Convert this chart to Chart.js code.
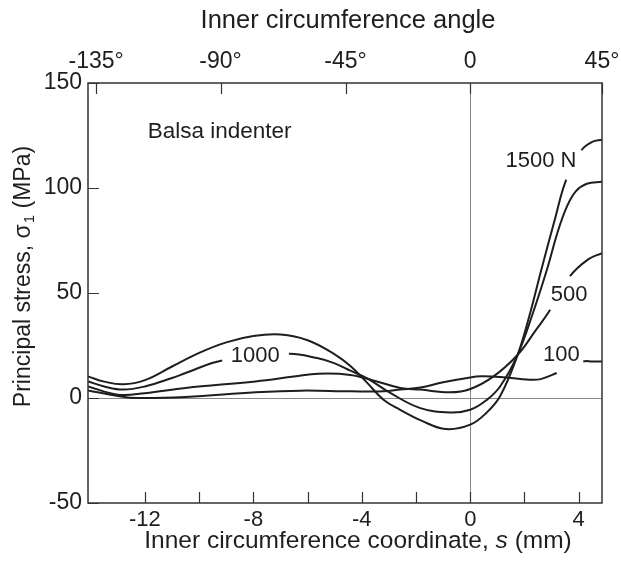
<!DOCTYPE html>
<html>
<head>
<meta charset="utf-8">
<script src="https://cdn.jsdelivr.net/npm/chart.js@4.4.0/dist/chart.umd.min.js"></script>
<style>
  html, body { margin: 0; padding: 0; background: #fff; }
</style>
</head>
<body>
<canvas id="stressChart" width="621" height="574"></canvas>
<script>
// principal stress (MPa) along the inner circumference, s in mm
var s1500 = [-14.1, -13.5, -12.8, -12, -11, -10, -9, -8, -7, -6, -5, -4.4, -3.8, -3.2, -2.6, -1.8, -0.9, 0, 0.6, 1.1, 1.75, 2.2, 2.62, 3.1, 3.54, 4.1, 4.5, 4.86];
var v1500 = [10.3, 7.8, 6.5, 8.5, 15, 21.5, 26.5, 29.5, 30.2, 27.5, 20.8, 15, 7.2, -0.8, -5.5, -10.8, -14.8, -12.7, -7, 0.8, 20.6, 40, 61, 84, 104, 118, 122, 123];

var s1000 = [-14.1, -13.5, -12.8, -12, -11, -10.5, -9.15, -6.69, -5.65, -5, -4.42, -3.8, -2.95, -1.84, -0.74, 0, 0.6, 1.1, 1.72, 2.3, 2.85, 3.2, 3.56, 3.9, 4.3, 4.86];
var v1000 = [7.9, 5.5, 4, 5.5, 9.5, 11.9, 17.9, 21.1, 19, 16.5, 13, 9.3, 2.4, -4.8, -6.9, -5.6, -1, 5.5, 19.8, 40, 62, 78, 91, 98.5, 102, 103];

var s500 = [-14.1, -13, -12, -10.5, -7.92, -6.5, -5.6, -4.42, -3.44, -2.58, -1.84, -0.74, 0, 0.86, 1.75, 2.4, 2.95, 3.68, 4.35, 4.86];
var v500 = [5.5, 1.6, 2.3, 4.8, 7.9, 10.2, 11.6, 11, 7.9, 4.8, 4, 2.7, 4.3, 10.3, 20.6, 32, 42, 58, 66, 69];

var s100 = [-14.1, -13, -12.3, -10.5, -7.92, -6.26, -4.42, -3.19, -2.58, -1.84, -1, 0, 0.4, 1.1, 2.2, 2.6, 3.19, 4.17, 4.5, 4.86];
var v100 = [3.6, 1, 0, 0.5, 2.7, 3.5, 3.2, 3.2, 4, 5, 7.5, 9.8, 10.3, 10, 8.7, 9, 11.9, 17.4, 17.4, 17.4];

// stretch of each curve left blank for its label
var gap1500 = [3.54, 4.1];
var gap1000 = [-9.15, -6.69];
var gap500 = [2.95, 3.68];
var gap100 = [3.19, 4.17];

var xTicks = [-12, -10, -8, -6, -4, -2, 0, 2, 4];
var yTicks = [-50, 0, 50, 100, 150];
var angleTickS = [-13.8, -9.21, -4.6, 0, 4.86];
var angleTickLabels = ['-135°', '-90°', '-45°', '0', '45°'];

var curveLabels = ['1500 N', '1000', '500', '100'];
var curveLabelS = [2.61, -7.93, 3.65, 3.36];
var curveLabelV = [112.7, 19.8, 49, 20.6];

var FONT = '"Liberation Sans", Arial, sans-serif';
var INK = '#1e1e1e';

Chart.defaults.font.family = FONT;
Chart.defaults.color = INK;

function pts(xs, ys) {
  return xs.map(function(x, i) { return { x: x, y: ys[i] }; });
}

function gapColor(gap) {
  return function(ctx) {
    if (ctx.p0.parsed.x >= gap[0] && ctx.p1.parsed.x <= gap[1]) return 'rgba(0,0,0,0)';
    return INK;
  };
}

function curve(label, xs, ys, gap) {
  return {
    label: label,
    data: pts(xs, ys),
    borderColor: INK,
    borderWidth: 2,
    pointRadius: 0,
    tension: 0.4,
    segment: { borderColor: gapColor(gap) },
    xAxisID: 'x',
    yAxisID: 'y'
  };
}

// keep edge labels from pushing the plot area in
function noSidePadding(sc) {
  sc.paddingLeft = 0;
  sc.paddingRight = 0;
}

var extras = {
  id: 'extras',
  afterDraw: function(chart) {
    var c = chart.ctx;
    var a = chart.chartArea;
    var x = chart.scales.x, y = chart.scales.y;

    c.save();
    // frame
    c.strokeStyle = '#333';
    c.lineWidth = 1.5;
    c.strokeRect(a.left, a.top, a.right - a.left, a.bottom - a.top);

    // inward ticks
    c.lineWidth = 1.2;
    c.beginPath();
    xTicks.forEach(function(v) {
      var px = Math.round(x.getPixelForValue(v)) + 0.5;
      c.moveTo(px, a.bottom); c.lineTo(px, a.bottom - 11);
    });
    angleTickS.forEach(function(v) {
      var px = Math.round(x.getPixelForValue(v)) + 0.5;
      c.moveTo(px, a.top); c.lineTo(px, a.top + 11);
    });
    yTicks.forEach(function(v) {
      var py = Math.round(y.getPixelForValue(v)) + 0.5;
      c.moveTo(a.left, py); c.lineTo(a.left + 11, py);
    });
    c.stroke();

    // curve labels and inset text
    c.fillStyle = INK;
    c.textBaseline = 'middle';
    c.font = '22px ' + FONT;
    c.textAlign = 'center';
    curveLabels.forEach(function(t, i) {
      c.fillText(t, x.getPixelForValue(curveLabelS[i]), y.getPixelForValue(curveLabelV[i]));
    });
    c.textAlign = 'left';
    c.font = '22.5px ' + FONT;
    c.fillText('Balsa indenter', x.getPixelForValue(-11.9), y.getPixelForValue(127));

    // top title
    c.font = '25.5px ' + FONT;
    c.textAlign = 'center';
    c.fillText('Inner circumference angle', (a.left + a.right) / 2 + 3, 21);

    // bottom title with italic s
    var p1 = 'Inner circumference coordinate, ', p2 = 's', p3 = ' (mm)';
    var fn = '24.5px ' + FONT, fi = 'italic 24.5px ' + FONT;
    c.font = fn; var w1 = c.measureText(p1).width, w3 = c.measureText(p3).width;
    c.font = fi; var w2 = c.measureText(p2).width;
    var bx = (a.left + a.right) / 2 + 13 - (w1 + w2 + w3) / 2;
    var by = 541;
    c.textAlign = 'left';
    c.font = fn; c.fillText(p1, bx, by);
    c.font = fi; c.fillText(p2, bx + w1, by);
    c.font = fn; c.fillText(p3, bx + w1 + w2, by);

    // y title with subscript
    var q1 = 'Principal stress, \u03c3', q2 = '1', q3 = ' (MPa)';
    var ft = '23px ' + FONT, fs = '15px ' + FONT;
    c.font = ft; var u1 = c.measureText(q1).width, u3 = c.measureText(q3).width;
    c.font = fs; var u2 = c.measureText(q2).width;
    c.translate(24, 277);
    c.rotate(-Math.PI / 2);
    var sx = -(u1 + u2 + u3) / 2;
    c.font = ft; c.fillText(q1, sx, 0);
    c.font = fs; c.fillText(q2, sx + u1 + 1, 6);
    c.font = ft; c.fillText(q3, sx + u1 + u2 + 1, 0);
    c.restore();
  }
};

var ctx = document.getElementById('stressChart');

var stressChart = new Chart(ctx, {
  type: 'line',
  data: {
    datasets: [
      curve('1500 N', s1500, v1500, gap1500),
      curve('1000 N', s1000, v1000, gap1000),
      curve('500 N', s500, v500, gap500),
      curve('100 N', s100, v100, gap100)
    ]
  },
  options: {
    responsive: false,
    animation: false,
    devicePixelRatio: 1,
    layout: { padding: { left: 0, right: 19, top: 0, bottom: 0 } },
    plugins: {
      legend: { display: false },
      tooltip: { enabled: false }
    },
    scales: {
      x: {
        type: 'linear',
        position: 'bottom',
        min: -14.1,
        max: 4.86,
        afterBuildTicks: function(sc) { sc.ticks = xTicks.map(function(v) { return { value: v }; }); },
        afterFit: function(sc) { sc.height = 71; noSidePadding(sc); },
        ticks: {
          autoSkip: false,
          maxRotation: 0,
          padding: 4,
          font: { size: 22 },
          callback: function(v) { return v % 4 === 0 ? String(v) : ''; }
        },
        grid: {
          drawTicks: false,
          lineWidth: 1,
          color: function(c) { return c.tick && c.tick.value === 0 ? '#888' : 'rgba(0,0,0,0)'; }
        },
        border: { display: false }
      },
      xTop: {
        type: 'linear',
        position: 'top',
        min: -14.1,
        max: 4.86,
        afterBuildTicks: function(sc) { sc.ticks = angleTickS.map(function(v) { return { value: v }; }); },
        afterFit: function(sc) { sc.height = 83; noSidePadding(sc); },
        ticks: {
          autoSkip: false,
          maxRotation: 0,
          padding: 8,
          font: { size: 23 },
          callback: function(v, i) { return angleTickLabels[i]; }
        },
        grid: { display: false, drawTicks: false },
        border: { display: false }
      },
      y: {
        type: 'linear',
        min: -50,
        max: 150,
        afterBuildTicks: function(sc) { sc.ticks = yTicks.map(function(v) { return { value: v }; }); },
        afterFit: function(sc) { sc.width = 88; sc.paddingTop = 0; sc.paddingBottom = 0; },
        ticks: {
          padding: 6,
          font: { size: 23 },
          callback: function(v) { return String(v); }
        },
        grid: {
          drawTicks: false,
          lineWidth: 1,
          color: function(c) { return c.tick && c.tick.value === 0 ? '#888' : 'rgba(0,0,0,0)'; }
        },
        border: { display: false }
      }
    }
  },
  plugins: [extras]
});
</script>
</body>
</html>
